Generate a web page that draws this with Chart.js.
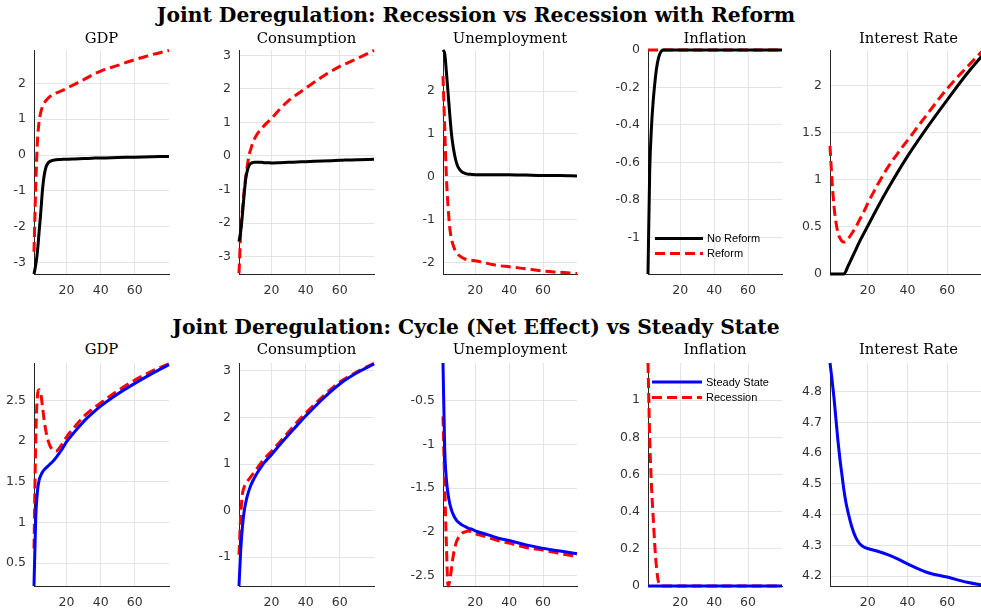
<!DOCTYPE html>
<html>
<head>
<meta charset="utf-8">
<script src="https://cdn.jsdelivr.net/npm/chart.js@4.4.1/dist/chart.umd.min.js"></script>
<style>
body { margin: 0; width: 981px; height: 613px; overflow: hidden; background: #fff; position: relative; }
.sup { position: absolute; left: 0; width: 952px; text-align: center; font: bold 20.3px "DejaVu Serif"; line-height: 20.3px; color: #000; white-space: nowrap; }
.ttl { position: absolute; text-align: center; font: 14.8px "DejaVu Serif"; line-height: 14.8px; color: #000; white-space: nowrap; }
canvas { position: absolute; }
</style>
</head>
<body>
<script>
'use strict'
// periodos del eje x
const periods = [1, 2, 3, 4, 5, 6, 7, 8, 9, 10, 12, 14, 16, 18, 20, 25, 30, 35, 40, 50, 60, 70, 80]
const xTicks = [20, 40, 60]
const supTitles = ['Joint Deregulation: Recession vs Recession with Reform', 'Joint Deregulation: Cycle (Net Effect) vs Steady State']
const panelTitles = ['GDP', 'Consumption', 'Unemployment', 'Inflation', 'Interest Rate']
const topLabels = ['No Reform', 'Reform']
const bottomLabels = ['Steady State', 'Recession']

// fila de arriba: sin reforma / con reforma
const gdpNoReform = [-3.32, -3.07, -2.7, -2.14, -1.58, -0.95, -0.56, -0.34, -0.24, -0.19, -0.15, -0.13, -0.125, -0.12, -0.12, -0.11, -0.1, -0.09, -0.08, -0.07, -0.06, -0.05, -0.04]
const gdpReform = [-2.7, -0.9, 0.37, 0.93, 1.2, 1.35, 1.45, 1.52, 1.57, 1.62, 1.68, 1.73, 1.77, 1.81, 1.86, 1.98, 2.1, 2.23, 2.34, 2.5, 2.66, 2.8, 2.92]
const consNoReform = [-2.55, -2.25, -1.75, -1.15, -0.66, -0.41, -0.27, -0.22, -0.2, -0.19, -0.19, -0.19, -0.2, -0.2, -0.21, -0.2, -0.19, -0.18, -0.17, -0.15, -0.13, -0.11, -0.1]
const consReform = [-3.5, -2.3, -1.6, -1.05, -0.6, -0.25, 0.05, 0.22, 0.38, 0.5, 0.68, 0.8, 0.92, 1.02, 1.12, 1.4, 1.65, 1.84, 2.02, 2.37, 2.67, 2.9, 3.15]
const unempNoReform = [2.96, 2.88, 2.45, 1.95, 1.45, 1.0, 0.7, 0.48, 0.32, 0.22, 0.12, 0.08, 0.06, 0.055, 0.05, 0.05, 0.05, 0.05, 0.05, 0.04, 0.03, 0.03, 0.02]
const unempReform = [2.35, 1.15, 0.0, -0.7, -1.2, -1.45, -1.6, -1.7, -1.77, -1.82, -1.88, -1.92, -1.94, -1.95, -1.96, -2.0, -2.05, -2.08, -2.1, -2.15, -2.2, -2.23, -2.26]
const inflNoReform = [-1.196, -0.65, -0.42, -0.28, -0.18, -0.1, -0.05, -0.02, -0.005, 0, 0, 0, 0, 0, 0, 0, 0, 0, 0, 0, 0, 0, 0]
const inflReform = [0, 0, 0, 0, 0, 0, 0, 0, 0, 0, 0, 0, 0, 0, 0, 0, 0, 0, 0, 0, 0, 0, 0]
const rateNoReform = [0, 0, 0, 0, 0, 0, 0, 0, 0.03, 0.08, 0.17, 0.26, 0.35, 0.43, 0.51, 0.71, 0.9, 1.08, 1.25, 1.56, 1.85, 2.13, 2.38]
const rateReform = [1.36, 1.0, 0.72, 0.55, 0.44, 0.38, 0.35, 0.34, 0.35, 0.37, 0.43, 0.5, 0.58, 0.66, 0.75, 0.95, 1.13, 1.28, 1.42, 1.7, 1.97, 2.2, 2.42]

// fila de abajo: estado estacionario / recesion
const gdpSteady = [0.22, 1.05, 1.38, 1.52, 1.58, 1.62, 1.65, 1.67, 1.69, 1.71, 1.75, 1.8, 1.86, 1.92, 1.99, 2.12, 2.24, 2.34, 2.43, 2.58, 2.71, 2.83, 2.94]
const gdpRecession = [0.68, 2.0, 2.55, 2.63, 2.58, 2.42, 2.25, 2.12, 2.03, 1.96, 1.89, 1.88, 1.92, 1.98, 2.05, 2.18, 2.3, 2.39, 2.47, 2.62, 2.75, 2.86, 2.95]
const consSteady = [-1.62, -0.85, -0.35, -0.02, 0.18, 0.33, 0.45, 0.55, 0.63, 0.7, 0.83, 0.94, 1.04, 1.12, 1.2, 1.42, 1.63, 1.83, 2.03, 2.4, 2.72, 2.96, 3.15]
const consRecession = [-0.95, -0.1, 0.35, 0.5, 0.57, 0.63, 0.68, 0.73, 0.78, 0.83, 0.93, 1.03, 1.12, 1.2, 1.27, 1.48, 1.69, 1.9, 2.09, 2.45, 2.76, 2.98, 3.16]
const unempSteady = [-0.07, -1.05, -1.4, -1.57, -1.68, -1.75, -1.8, -1.84, -1.87, -1.89, -1.92, -1.94, -1.96, -1.97, -1.99, -2.02, -2.05, -2.08, -2.1, -2.15, -2.19, -2.22, -2.25]
const unempRecession = [-0.68, -1.45, -2.15, -2.62, -2.56, -2.42, -2.28, -2.18, -2.11, -2.07, -2.02, -2.0, -1.99, -2.0, -2.02, -2.05, -2.08, -2.11, -2.13, -2.18, -2.21, -2.25, -2.28]
const inflSteady = [0, 0, 0, 0, 0, 0, 0, 0, 0, 0, 0, 0, 0, 0, 0, 0, 0, 0, 0, 0, 0, 0, 0]
const inflRecession = [1.2, 0.8, 0.55, 0.38, 0.22, 0.1, 0.03, 0.005, 0, 0, 0, 0, 0, 0, 0, 0, 0, 0, 0, 0, 0, 0, 0]
const rateSteady = [4.893, 4.84, 4.78, 4.71, 4.64, 4.58, 4.53, 4.48, 4.44, 4.41, 4.36, 4.325, 4.305, 4.295, 4.29, 4.281, 4.27, 4.256, 4.24, 4.212, 4.197, 4.18, 4.168]

// limites y ticks del eje y
const yLimTop = [[-3.32, 2.93], [-3.52, 3.16], [-2.27, 2.96], [-1.196, 0], [0, 2.38]]
const yLimBottom = [[0.22, 2.96], [-1.62, 3.17], [-2.62, -0.07], [0, 1.2], [4.168, 4.893]]
const yTicksTop = [[-3, -2, -1, 0, 1, 2], [-3, -2, -1, 0, 1, 2, 3], [-2, -1, 0, 1, 2], [-1, -0.8, -0.6, -0.4, -0.2, 0], [0, 0.5, 1, 1.5, 2]]
const yTicksBottom = [[0.5, 1, 1.5, 2, 2.5], [-1, 0, 1, 2, 3], [-2.5, -2, -1.5, -1, -0.5], [0, 0.2, 0.4, 0.6, 0.8, 1], [4.2, 4.3, 4.4, 4.5, 4.6, 4.7, 4.8]]

// geometria (pixeles del area de dibujo)
const colLeft = [34, 239, 443, 648, 830]
const colWidth = [135, 135, 134, 134, 157]
const rowTop = [50, 363]
const rowHeight = [224, 223]
const titleTop = [31, 342]
const supTop = [5, 317]
const YW = 44, XH = 30, PT = 6, PR = 6

const RED = '#ff0000', BLACK = '#000000', BLUE = '#0000ff'

// leyenda dentro del area del grafico
const insideLegend = {
    id: 'insideLegend',
    afterDatasetsDraw(chart, args, opts) {
        const ctx = chart.ctx
        const area = chart.chartArea
        ctx.save()
        ctx.font = '11px "Liberation Sans"'
        ctx.textBaseline = 'middle'
        chart.data.datasets.forEach((ds, i) => {
            const y = area.top + opts.top + i * opts.gap
            const x0 = area.left + opts.left
            ctx.strokeStyle = ds.borderColor
            ctx.lineWidth = ds.borderWidth
            ctx.setLineDash(ds.borderDash || [])
            ctx.beginPath()
            ctx.moveTo(x0, y)
            ctx.lineTo(x0 + opts.len, y)
            ctx.stroke()
            ctx.setLineDash([])
            ctx.fillStyle = '#000'
            ctx.fillText(ds.label, x0 + opts.len + 4, y + 0.5)
        })
        ctx.restore()
    }
}

function addText(cls, text, left, top, width) {
    const d = document.createElement('div')
    d.className = cls
    d.textContent = text
    d.style.top = top + 'px'
    d.style.left = left + 'px'
    d.style.width = width + 'px'
    document.body.appendChild(d)
}

function makeSeries(label, values, color, dashed) {
    return {
        label: label,
        data: periods.map((p, k) => ({ x: p, y: values[k] })),
        borderColor: color,
        borderWidth: 3,
        borderDash: dashed ? [10, 5] : [],
        pointRadius: 0,
        fill: false,
        cubicInterpolationMode: 'monotone',
        clip: false
    }
}

function makePanel(row, col, datasets, lim, ticks, legend) {
    const w = YW + colWidth[col] + PR
    const h = PT + rowHeight[row] + XH
    const c = document.createElement('canvas')
    c.width = w
    c.height = h
    c.style.width = w + 'px'
    c.style.height = h + 'px'
    c.style.left = (colLeft[col] - YW) + 'px'
    c.style.top = (rowTop[row] - PT) + 'px'
    document.body.appendChild(c)
    addText('ttl', panelTitles[col], colLeft[col] - 30, titleTop[row], colWidth[col] + 60)

    const tickFont = { family: 'DejaVu Sans', size: 12.5 }
    new Chart(c.getContext('2d'), {
        type: 'line',
        data: { datasets: datasets },
        options: {
            responsive: false,
            animation: false,
            devicePixelRatio: 1,
            layout: { padding: { top: PT, right: PR, left: 0, bottom: 0 } },
            plugins: {
                legend: { display: false },
                tooltip: { enabled: false },
                insideLegend: legend || false
            },
            scales: {
                x: {
                    type: 'linear',
                    min: 1,
                    max: 80,
                    afterBuildTicks: s => { s.ticks = xTicks.map(v => ({ value: v })) },
                    afterFit: s => { s.height = XH; s.paddingLeft = 0; s.paddingRight = 0 },
                    grid: { color: '#e4e4e4', drawTicks: false },
                    border: { color: '#262626', width: 1 },
                    ticks: { padding: 9, color: '#333', font: tickFont, maxRotation: 0, autoSkip: false, callback: v => String(v) }
                },
                y: {
                    min: lim[0],
                    max: lim[1],
                    afterBuildTicks: s => { s.ticks = ticks.map(v => ({ value: v })) },
                    afterFit: s => { s.width = YW; s.paddingTop = 0; s.paddingBottom = 0 },
                    grid: { color: '#e4e4e4', drawTicks: false },
                    border: { color: '#262626', width: 1 },
                    ticks: { padding: 8, color: '#333', font: tickFont, autoSkip: false, callback: v => String(v) }
                }
            }
        },
        plugins: [insideLegend]
    })
}

supTitles.forEach((t, i) => addText('sup', t, 0, supTop[i], 952))

// arriba
const topData = [
    [gdpNoReform, gdpReform],
    [consNoReform, consReform],
    [unempNoReform, unempReform],
    [inflNoReform, inflReform],
    [rateNoReform, rateReform]
]
topData.forEach((pair, col) => {
    const ds = [makeSeries(topLabels[0], pair[0], BLACK, false), makeSeries(topLabels[1], pair[1], RED, true)]
    const legend = col === 3 ? { left: 7, top: 188.5, gap: 15, len: 48 } : null
    makePanel(0, col, ds, yLimTop[col], yTicksTop[col], legend)
})

// abajo
const bottomData = [
    [gdpSteady, gdpRecession],
    [consSteady, consRecession],
    [unempSteady, unempRecession],
    [inflSteady, inflRecession],
    [rateSteady]
]
bottomData.forEach((pair, col) => {
    const ds = [makeSeries(bottomLabels[0], pair[0], BLUE, false)]
    if (pair[1]) ds.push(makeSeries(bottomLabels[1], pair[1], RED, true))
    const legend = col === 3 ? { left: 4, top: 19, gap: 15.5, len: 50 } : null
    makePanel(1, col, ds, yLimBottom[col], yTicksBottom[col], legend)
})
</script>
</body>
</html>
